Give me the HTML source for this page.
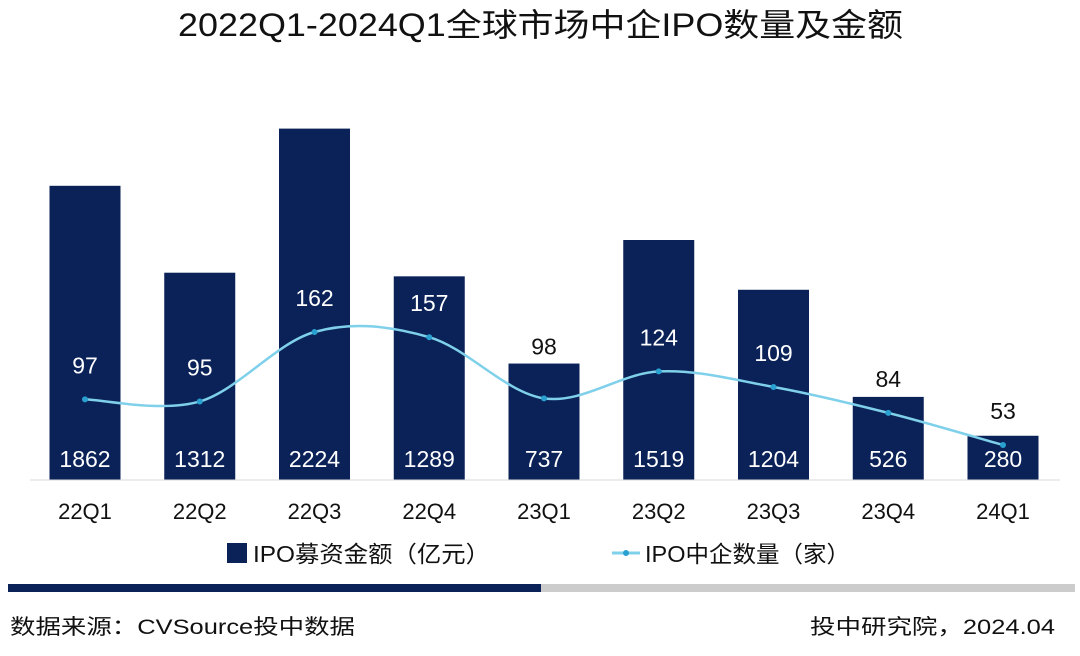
<!DOCTYPE html>
<html><head><meta charset="utf-8"><style>
body{margin:0;background:#fff;width:1080px;height:651px;overflow:hidden;font-family:"Liberation Sans","Noto Sans CJK SC",sans-serif;}
</style></head><body>
<svg width="1080" height="651" xmlns="http://www.w3.org/2000/svg">
<text x="178" y="36" font-size="32" fill="#111" textLength="725" lengthAdjust="spacingAndGlyphs">2022Q1-2024Q1全球市场中企IPO数量及金额</text>
<g id="bars"></g><g id="line"></g><g id="labels"></g>
<line x1="30" y1="480" x2="1060" y2="480" stroke="#d9d9d9" stroke-width="1"/>
<g>
<rect x="227" y="543" width="20" height="20" fill="#0a2257"/>
<text x="253" y="562" font-size="23" fill="#111" textLength="237" lengthAdjust="spacingAndGlyphs">IPO募资金额（亿元）</text>
<line x1="612" y1="553" x2="640" y2="553" stroke="#7fd0ea" stroke-width="3"/>
<circle cx="626" cy="553" r="3" fill="#2aa0d0"/>
<text x="645" y="562" font-size="23" fill="#111" textLength="205" lengthAdjust="spacingAndGlyphs">IPO中企数量（家）</text>
</g>
<rect x="8" y="584" width="533" height="8" fill="#0a2257"/>
<rect x="541" y="584" width="534" height="8" fill="#cccccc"/>
<text x="10" y="634" font-size="21" fill="#111" textLength="345" lengthAdjust="spacingAndGlyphs">数据来源：CVSource投中数据</text>
<text x="810" y="634" font-size="21" fill="#111" textLength="245" lengthAdjust="spacingAndGlyphs">投中研究院，2024.04</text>
</svg>
<script>
const categories=["22Q1","22Q2","22Q3","22Q4","23Q1","23Q2","23Q3","23Q4","24Q1"];
const amounts=[1862,1312,2224,1289,737,1519,1204,526,280];
const counts=[97,95,162,157,98,124,109,84,53];
const NS="http://www.w3.org/2000/svg";
const x=i=>85+i*114.75;
const yA=v=>480-v*0.158;
const yC=v=>500-v*1.037;
function mk(t,a,p){const e=document.createElementNS(NS,t);for(const k in a)e.setAttribute(k,a[k]);if(p)p.appendChild(e);return e;}
const gb=document.getElementById('bars'),gl=document.getElementById('line'),gt=document.getElementById('labels');
categories.forEach((c,i)=>{
 const r=mk('rect',{x:x(i)-35.5,y:yA(amounts[i]),width:71,height:480-yA(amounts[i]),fill:'#0a2257'},gb);
 
 
 const t=mk('text',{x:x(i),y:467,'text-anchor':'middle','font-size':23,fill:'#fff'},gt);t.textContent=amounts[i];
 
 
 let ly=yC(counts[i])-26;
 const top=yA(amounts[i]);
 let inBar=ly-20>top;
 if(!inBar && ly>top-8) ly=top-9;
 const t2=mk('text',{x:x(i),y:ly,'text-anchor':'middle','font-size':23,fill:inBar?'#fff':'#111'},gt);t2.textContent=counts[i];
 
 
 const xl=mk('text',{x:x(i),y:519,'text-anchor':'middle','font-size':22,fill:'#111'},gt);xl.textContent=c;
 
 
});
const pts=counts.map((v,i)=>[x(i),yC(v)]);
let d='M'+pts[0][0]+','+pts[0][1];
for(let i=0;i<pts.length-1;i++){
 const p0=pts[Math.max(0,i-1)],p1=pts[i],p2=pts[i+1],p3=pts[Math.min(pts.length-1,i+2)];
 const k=1/6;
 d+=` C${p1[0]+(p2[0]-p0[0])*k},${p1[1]+(p2[1]-p0[1])*k} ${p2[0]-(p3[0]-p1[0])*k},${p2[1]-(p3[1]-p1[1])*k} ${p2[0]},${p2[1]}`;
}
const path=mk('path',{d:d,fill:'none',stroke:'#7fd0ea','stroke-width':2.5},gl);


pts.forEach((p,i)=>{const c=mk('circle',{cx:p[0],cy:p[1],r:3,fill:'#2aa0d0'},gl);
 
 });
</script>
</body></html>
